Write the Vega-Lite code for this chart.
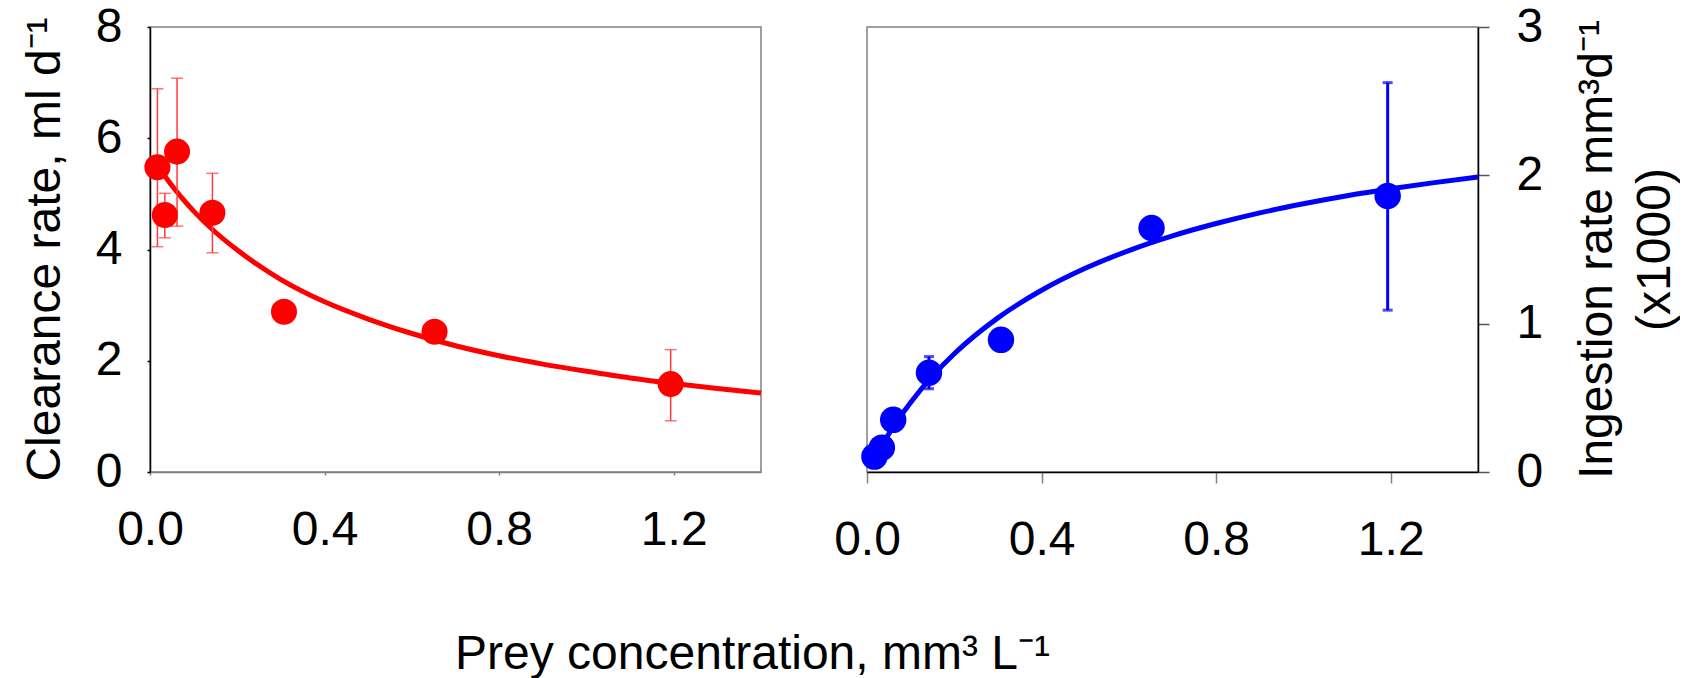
{
  "$schema": "https://vega.github.io/schema/vega-lite/v6.json",
  "padding": {"left": 20, "top": 2, "right": 0, "bottom": 0},
  "background": "white",
  "config": {
    "view": {"stroke": "#808080", "strokeWidth": 1.5},
    "font": "Liberation Sans",
    "axis": {
      "grid": false,
      "labelFont": "Liberation Sans",
      "labelFontSize": 48,
      "labelColor": "black",
      "titleFont": "Liberation Sans",
      "titleFontSize": 48,
      "titleFontWeight": "normal",
      "titleColor": "black",
      "domainWidth": 1.5,
      "tickWidth": 1.5,
      "labelFlush": false,
      "labelOverlap": false
    }
  },
  "datasets": {
    "clear": [
      {"conc": 0.017, "rate": 5.48, "lo": 4.05, "hi": 6.89},
      {"conc": 0.034, "rate": 4.62, "lo": 4.21, "hi": 5.01},
      {"conc": 0.062, "rate": 5.76, "lo": 4.42, "hi": 7.08},
      {"conc": 0.143, "rate": 4.66, "lo": 3.94, "hi": 5.37},
      {"conc": 0.307, "rate": 2.88},
      {"conc": 0.652, "rate": 2.52},
      {"conc": 1.193, "rate": 1.58, "lo": 0.92, "hi": 2.2}
    ],
    "ingest": [
      {"conc": 0.017, "rate": 0.104},
      {"conc": 0.034, "rate": 0.164},
      {"conc": 0.06, "rate": 0.352},
      {"conc": 0.142, "rate": 0.669, "lo": 0.561, "hi": 0.778},
      {"conc": 0.307, "rate": 0.891},
      {"conc": 0.652, "rate": 1.645},
      {"conc": 1.193, "rate": 1.861, "lo": 1.091, "hi": 2.625}
    ],
    "clearfit": [
      {"conc": 0.033, "rate": 5.33},
      {"conc": 0.05, "rate": 5.15},
      {"conc": 0.075, "rate": 4.91},
      {"conc": 0.1, "rate": 4.69},
      {"conc": 0.15, "rate": 4.31},
      {"conc": 0.2, "rate": 3.99},
      {"conc": 0.3, "rate": 3.46},
      {"conc": 0.4, "rate": 3.06},
      {"conc": 0.5, "rate": 2.75},
      {"conc": 0.6, "rate": 2.49},
      {"conc": 0.7, "rate": 2.27},
      {"conc": 0.8, "rate": 2.09},
      {"conc": 0.9, "rate": 1.94},
      {"conc": 1.0, "rate": 1.81},
      {"conc": 1.1, "rate": 1.69},
      {"conc": 1.2, "rate": 1.59},
      {"conc": 1.3, "rate": 1.5},
      {"conc": 1.4, "rate": 1.42}
    ],
    "ingestfit": [
      {"conc": 0.017, "rate": 0.094},
      {"conc": 0.03, "rate": 0.161},
      {"conc": 0.05, "rate": 0.257},
      {"conc": 0.075, "rate": 0.368},
      {"conc": 0.1, "rate": 0.469},
      {"conc": 0.15, "rate": 0.646},
      {"conc": 0.2, "rate": 0.797},
      {"conc": 0.3, "rate": 1.039},
      {"conc": 0.4, "rate": 1.225},
      {"conc": 0.5, "rate": 1.373},
      {"conc": 0.6, "rate": 1.493},
      {"conc": 0.7, "rate": 1.592},
      {"conc": 0.8, "rate": 1.675},
      {"conc": 0.9, "rate": 1.747},
      {"conc": 1.0, "rate": 1.808},
      {"conc": 1.1, "rate": 1.862},
      {"conc": 1.2, "rate": 1.909},
      {"conc": 1.3, "rate": 1.951},
      {"conc": 1.4, "rate": 1.989}
    ]
  },
  "spacing": 106,
  "bounds": "flush",
  "hconcat": [
    {
      "width": 611,
      "height": 445,
      "layer": [
        {
          "data": {"name": "clearfit"},
          "mark": {"type": "line", "color": "#ff0000", "strokeWidth": 5, "interpolate": "monotone"},
          "encoding": {
            "x": {"field": "conc", "type": "quantitative",
              "scale": {"domain": [0, 1.4], "nice": false},
              "axis": {"values": [0, 0.4, 0.8, 1.2], "format": ".1f", "tickSize": 3, "labelPadding": 31,
                "domainColor": "#808080", "tickColor": "#808080",
                "title": "Prey concentration, mm³ L⁻¹", "titleX": 602, "titleY": 196,
                "titleAlign": "center", "titleBaseline": "alphabetic", "titleAngle": 0}},
            "y": {"field": "rate", "type": "quantitative",
              "scale": {"domain": [0, 8], "nice": false},
              "axis": {"values": [0, 2, 4, 6, 8], "format": "d", "tickSize": 3, "labelPadding": 25,
                "domainColor": "black", "tickColor": "black",
                "title": "Clearance rate, ml d⁻¹", "titleX": -90.7, "titleY": 222,
                "titleAngle": -90, "titleAlign": "center", "titleBaseline": "alphabetic"}}
          }
        },
        {
          "data": {"name": "clear"},
          "mark": {"type": "rule", "color": "#ff3b3b", "strokeWidth": 1.5},
          "encoding": {
            "x": {"field": "conc", "type": "quantitative"},
            "y": {"field": "lo", "type": "quantitative"},
            "y2": {"field": "hi"}
          }
        },
        {
          "data": {"name": "clear"},
          "mark": {"type": "tick", "color": "#ff3b3b", "orient": "horizontal", "size": 12, "thickness": 1.5},
          "encoding": {
            "x": {"field": "conc", "type": "quantitative"},
            "y": {"field": "hi", "type": "quantitative"}
          }
        },
        {
          "data": {"name": "clear"},
          "mark": {"type": "tick", "color": "#ff3b3b", "orient": "horizontal", "size": 12, "thickness": 1.5},
          "encoding": {
            "x": {"field": "conc", "type": "quantitative"},
            "y": {"field": "lo", "type": "quantitative"}
          }
        },
        {
          "data": {"name": "clear"},
          "mark": {"type": "circle", "color": "#ff0000", "size": 680, "opacity": 1},
          "encoding": {
            "x": {"field": "conc", "type": "quantitative"},
            "y": {"field": "rate", "type": "quantitative"}
          }
        }
      ]
    },
    {
      "width": 611,
      "height": 445,
      "layer": [
        {
          "data": {"name": "ingestfit"},
          "mark": {"type": "line", "color": "#0000ff", "strokeWidth": 5, "interpolate": "monotone"},
          "encoding": {
            "x": {"field": "conc", "type": "quantitative",
              "scale": {"domain": [0, 1.4], "nice": false},
              "axis": {"values": [0, 0.4, 0.8, 1.2], "format": ".1f", "tickSize": 11, "labelPadding": 33,
                "domainColor": "black", "tickColor": "#808080", "title": null}},
            "y": {"field": "rate", "type": "quantitative",
              "scale": {"domain": [0, 3], "nice": false},
              "axis": {"orient": "right", "values": [0, 1, 2, 3], "format": "d", "tickSize": 11, "labelPadding": 27,
                "domainColor": "black", "tickColor": "#555555",
                "title": ["Ingestion rate mm³d⁻¹", "(x1000)"], "titleX": 133, "titleY": 222,
                "titleAngle": -90, "titleAlign": "center", "titleBaseline": "alphabetic", "titleLineHeight": 58}}
          }
        },
        {
          "data": {"name": "ingest"},
          "mark": {"type": "rule", "color": "#0000ff", "strokeWidth": 3},
          "encoding": {
            "x": {"field": "conc", "type": "quantitative"},
            "y": {"field": "lo", "type": "quantitative"},
            "y2": {"field": "hi"}
          }
        },
        {
          "data": {"name": "ingest"},
          "mark": {"type": "tick", "color": "#0000ff", "orient": "horizontal", "size": 10, "thickness": 3},
          "encoding": {
            "x": {"field": "conc", "type": "quantitative"},
            "y": {"field": "hi", "type": "quantitative"}
          }
        },
        {
          "data": {"name": "ingest"},
          "mark": {"type": "tick", "color": "#0000ff", "orient": "horizontal", "size": 10, "thickness": 3},
          "encoding": {
            "x": {"field": "conc", "type": "quantitative"},
            "y": {"field": "lo", "type": "quantitative"}
          }
        },
        {
          "data": {"name": "ingest"},
          "mark": {"type": "circle", "color": "#0000ff", "size": 700, "opacity": 1},
          "encoding": {
            "x": {"field": "conc", "type": "quantitative"},
            "y": {"field": "rate", "type": "quantitative"}
          }
        }
      ]
    }
  ]
}
